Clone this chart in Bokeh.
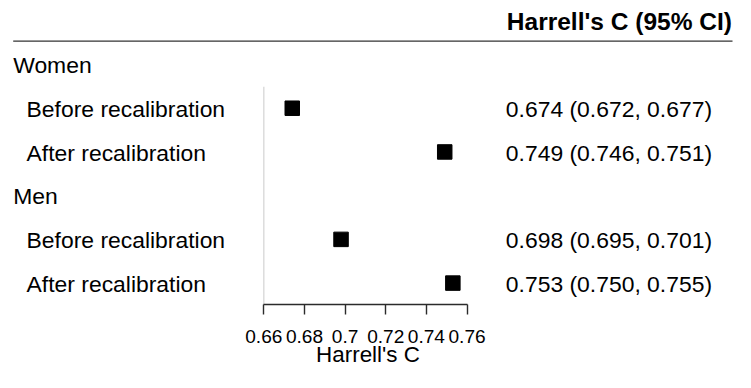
from bokeh.plotting import figure
from bokeh.models import Range1d, FixedTicker, ColumnDataSource
from bokeh.core.properties import value
from bokeh.embed import file_html
from bokeh.resources import INLINE

# ---- data ----
group_names = ["Women", "Men"]
group_rows = [6, 3]
sub_labels = ["Before recalibration", "After recalibration",
              "Before recalibration", "After recalibration"]
est_rows = [5, 4, 2, 1]
estimates = [0.674, 0.749, 0.698, 0.753]
lower = [0.672, 0.746, 0.695, 0.750]
upper = [0.677, 0.751, 0.701, 0.755]
tick_values = [0.66, 0.68, 0.70, 0.72, 0.74, 0.76]
tick_labels = ["0.66", "0.68", "0.7", "0.72", "0.74", "0.76"]
header_text = "Harrell's C (95% CI)"
axis_title = "Harrell's C"

# ---- layout (pixel geometry of the canvas) ----
W, H = 735, 372
BOTTOM = 68
FRAME_H = H - BOTTOM
px_per_unit = 2032.8
x_left_px = 263.3            # canvas left -> first tick
row_step = 43.72
row1_px = 282.6              # canvas top -> row 1
x0 = tick_values[0] - x_left_px / px_per_unit
x1 = x0 + W / px_per_unit
y_top = 1 + row1_px / row_step
y_bot = 1 - (FRAME_H - row1_px) / row_step

def px2x(px):
    return x0 + px / px_per_unit

def py2y(py):
    return 1 + (row1_px - py) / row_step

FONT = "Liberation Sans"
FS = "22.9px"

p = figure(width=W, height=H, output_backend="svg", toolbar_location=None,
           x_range=Range1d(x0, x1), y_range=Range1d(y_bot, y_top),
           y_axis_location=None, min_border_left=0, min_border_right=0,
           min_border_top=0, min_border_bottom=BOTTOM)
p.outline_line_color = None
p.grid.visible = False
p.background_fill_color = "white"
p.border_fill_color = "white"

ax = p.xaxis[0]
ax.ticker = FixedTicker(ticks=tick_values)
ax.major_label_overrides = {v: l for v, l in zip(tick_values, tick_labels)}
ax.bounds = (tick_values[0], tick_values[-1])
ax.axis_line_color = "#2b2b2b"
ax.axis_line_width = 1.4
ax.major_tick_line_color = "#2b2b2b"
ax.major_tick_line_width = 1.4
ax.major_tick_out = 10
ax.major_tick_in = 0
ax.minor_tick_line_color = None
ax.major_label_standoff = 15
ax.major_label_text_font = FONT
ax.major_label_text_font_size = "19.1px"
ax.major_label_text_color = "black"
ax.axis_label = axis_title
ax.axis_label_text_font = FONT
ax.axis_label_text_font_size = "22.4px"
ax.axis_label_text_font_style = "normal"
ax.axis_label_text_color = "black"
ax.axis_label_standoff = -4

# vertical reference line
p.segment(x0=[tick_values[0]], y0=[y_bot], x1=[tick_values[0]], y1=[py2y(86.3)],
          line_color="#dcdcdc", line_width=1.5)
# header rule
p.segment(x0=[px2x(12.7)], y0=[py2y(40.6)], x1=[px2x(732)], y1=[py2y(40.6)],
          line_color="#333333", line_width=1.2)

src = ColumnDataSource(dict(row=est_rows, est=estimates, lo=lower, hi=upper,
                            lab=sub_labels,
                            ci=[f"{e:.3f} ({l:.3f}, {h:.3f})" for e, l, h in zip(estimates, lower, upper)]))

p.segment(x0="lo", y0="row", x1="hi", y1="row", source=src,
          line_color="black", line_width=1.5)
p.scatter(x="est", y="row", source=src, marker="square", size=14.5,
          fill_color="black", line_color="black")

# group labels
gsrc = ColumnDataSource(dict(row=group_rows, lab=group_names, x=[x0] * len(group_rows)))
p.text(x="x", y="row", text="lab", source=gsrc, x_offset=12.7, y_offset=0,
       text_font=value(FONT), text_font_size=FS, text_color="black",
       text_align="left", text_baseline="middle")
# sub labels
p.text(x=x0, y="row", text="lab", source=src, x_offset=26.1, y_offset=1,
       text_font=value(FONT), text_font_size=FS, text_color="black",
       text_align="left", text_baseline="middle")
# CI texts
p.text(x=x1, y="row", text="ci", source=src, x_offset=-23.5, y_offset=1,
       text_font=value(FONT), text_font_size=FS, text_color="black",
       text_align="right", text_baseline="middle")
# header
p.text(x=[x1], y=[7], text=[header_text], x_offset=-3.6, y_offset=0.5,
       text_font=value(FONT), text_font_size="24.5px", text_font_style="bold",
       text_color="black", text_align="right", text_baseline="middle")

open("out.html", "w").write(file_html(p, INLINE))
